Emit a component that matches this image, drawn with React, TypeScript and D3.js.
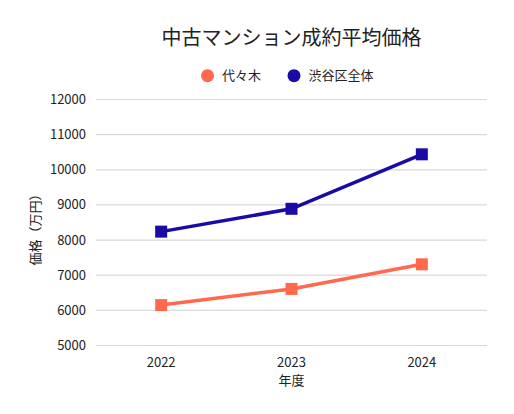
import { useEffect, useRef } from "react"
import * as d3 from "d3"

const years = ["2022", "2023", "2024"]
const yoyogi = [6150, 6610, 7310]
const shibuya = [8240, 8890, 10440]
const yTicks = [5000, 6000, 7000, 8000, 9000, 10000, 11000, 12000]

const seriesNames = ["代々木", "渋谷区全体"]
const seriesColors = ["#ff6a4d", "#1a0aa6"]

const FONT = "'Noto Sans CJK JP', 'Noto Sans', sans-serif"

export default function App() {
  const svgRef = useRef<SVGSVGElement>(null)

  useEffect(() => {
    if (!svgRef.current) return
    const svg = d3.select(svgRef.current)
    svg.selectAll("*").remove()

    const width = 514
    const height = 414
    const margin = { top: 99.5, right: 27, bottom: 68.5, left: 96 }
    const innerW = width - margin.left - margin.right
    const innerH = height - margin.top - margin.bottom

    svg.append("rect").attr("width", width).attr("height", height).attr("fill", "#fff")

    const g = svg.append("g").attr("transform", `translate(${margin.left},${margin.top})`)

    const x = d3.scaleBand().domain(years).range([0, innerW]).padding(0)
    const y = d3.scaleLinear().domain([5000, 12000]).range([innerH, 0])

    // Gridlines
    g.selectAll(".grid")
      .data(yTicks)
      .enter()
      .append("line")
      .attr("x1", 0)
      .attr("x2", innerW)
      .attr("y1", (d) => y(d))
      .attr("y2", (d) => y(d))
      .attr("stroke", "#d9d9d9")
      .attr("stroke-width", 1.2)

    // Y tick labels
    g.selectAll(".ylab")
      .data(yTicks)
      .enter()
      .append("text")
      .attr("x", -10)
      .attr("y", (d) => y(d))
      .attr("dy", "0.35em")
      .attr("text-anchor", "end")
      .attr("font-family", FONT)
      .attr("font-size", 13)
      .attr("fill", "#222")
      .text((d) => d)

    // X tick labels
    g.selectAll(".xlab")
      .data(years)
      .enter()
      .append("text")
      .attr("x", (d) => (x(d) as number) + x.bandwidth() / 2)
      .attr("y", innerH + 17)
      .attr("dy", "0.35em")
      .attr("text-anchor", "middle")
      .attr("font-family", FONT)
      .attr("font-size", 13)
      .attr("fill", "#222")
      .text((d) => d)

    // Axis titles
    g.append("text")
      .attr("x", innerW / 2)
      .attr("y", innerH + 35)
      .attr("dy", "0.35em")
      .attr("text-anchor", "middle")
      .attr("font-family", FONT)
      .attr("font-size", 13)
      .attr("fill", "#222")
      .text("年度")

    g.append("text")
      .attr("transform", `translate(${35 - margin.left},${innerH / 2 + 4}) rotate(-90)`)
      .attr("dy", "0.35em")
      .attr("text-anchor", "middle")
      .attr("font-family", FONT)
      .attr("font-size", 13)
      .attr("fill", "#222")
      .text("価格（万円）")

    // Lines and markers
    const line = d3
      .line<number>()
      .x((_, i) => (x(years[i]) as number) + x.bandwidth() / 2)
      .y((d) => y(d))

    ;[yoyogi, shibuya].forEach((vals, si) => {
      g.append("path")
        .datum(vals)
        .attr("d", line)
        .attr("fill", "none")
        .attr("stroke", seriesColors[si])
        .attr("stroke-width", 3.5)

      g.selectAll(`.pt${si}`)
        .data(vals)
        .enter()
        .append("rect")
        .attr("x", (_, i) => (x(years[i]) as number) + x.bandwidth() / 2 - 6)
        .attr("y", (d) => y(d) - 6)
        .attr("width", 12)
        .attr("height", 12)
        .attr("fill", seriesColors[si])
    })

    // Title
    svg
      .append("text")
      .attr("x", margin.left + innerW / 2)
      .attr("y", 38)
      .attr("dy", "0.35em")
      .attr("text-anchor", "middle")
      .attr("font-family", FONT)
      .attr("font-size", 20)
      .attr("fill", "#222")
      .text("中古マンション成約平均価格")

    // Legend
    const legendX = [207.5, 294]
    seriesNames.forEach((name, i) => {
      svg
        .append("circle")
        .attr("cx", legendX[i])
        .attr("cy", 75.7)
        .attr("r", 6.5)
        .attr("fill", seriesColors[i])
      svg
        .append("text")
        .attr("x", legendX[i] + 14.5)
        .attr("y", 75.7)
        .attr("dy", "0.35em")
        .attr("font-family", FONT)
        .attr("font-size", 13)
        .attr("fill", "#222")
        .text(name)
    })
  }, [])

  return <svg ref={svgRef} width={514} height={414} style={{ display: "block", margin: -8 }}></svg>
}
